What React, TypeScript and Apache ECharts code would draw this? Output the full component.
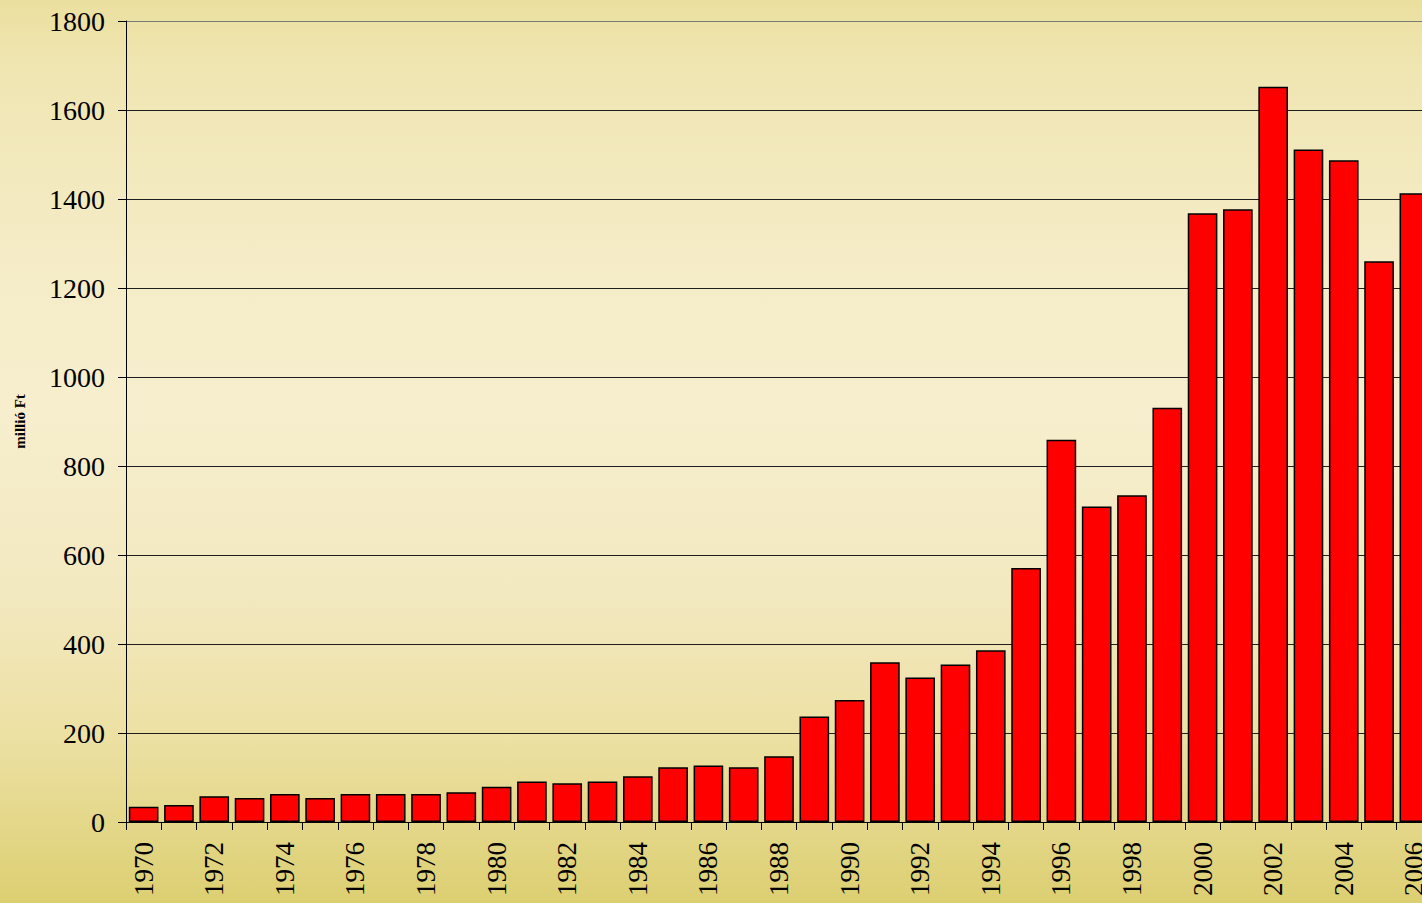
import React, { useEffect, useRef } from "react";
import * as echarts from "echarts";

const years: string[] = [
  "1970","1971","1972","1973","1974","1975","1976","1977","1978","1979",
  "1980","1981","1982","1983","1984","1985","1986","1987","1988","1989",
  "1990","1991","1992","1993","1994","1995","1996","1997","1998","1999",
  "2000","2001","2002","2003","2004","2005","2006",
];
const values: number[] = [
  34, 38, 58, 54, 63, 54, 63, 63, 63, 67,
  79, 91, 87, 91, 103, 123, 127, 123, 148, 237,
  274, 359, 325, 354, 386, 571, 859, 709, 734, 931,
  1368, 1377, 1652, 1511, 1487, 1260, 1413,
];
const yMin = 0;
const yMax = 1800;
const yStep = 200;
const yName = "millió Ft";

export default function App() {
  const ref = useRef<HTMLDivElement>(null);
  useEffect(() => {
    if (!ref.current) return;
    const chart = echarts.init(ref.current, undefined, { renderer: "svg" });
    const lineColors: string[] = [];
    for (let v = yMin; v <= yMax; v += yStep) lineColors.push(v === yMax ? "#7a7a7a" : "#1e1e1e");
    chart.setOption({
      animation: false,
      backgroundColor: "transparent",
      grid: { left: 126, top: 21, bottom: 81, right: 8, containLabel: false },
      xAxis: {
        type: "category",
        data: years,
        axisLine: { lineStyle: { color: "#000", width: 1 } },
        axisTick: { show: true, interval: 0, length: 8, lineStyle: { color: "#000" } },
        axisLabel: {
          interval: 1,
          rotate: 90,
          margin: 20,
          fontFamily: "Liberation Serif",
          fontSize: 27,
          color: "#000",
        },
        splitLine: { show: false },
      },
      yAxis: {
        type: "value",
        min: yMin,
        max: yMax,
        interval: yStep,
        name: yName,
        nameLocation: "middle",
        nameRotate: 90,
        nameGap: 99,
        nameTextStyle: {
          fontFamily: "Liberation Serif",
          fontSize: 15,
          fontWeight: "bold",
          color: "#000",
        },
        axisLine: { show: true, lineStyle: { color: "#000", width: 1 } },
        axisTick: { show: true, length: 8, lineStyle: { color: "#000" } },
        axisLabel: {
          margin: 21,
          fontFamily: "Liberation Serif",
          fontSize: 28,
          color: "#000",
          formatter: (v: number) => String(v),
        },
        splitLine: { show: true, lineStyle: { color: lineColors, width: 1 } },
      },
      series: [
        {
          type: "bar",
          data: values,
          barCategoryGap: "16%",
          itemStyle: {
            color: "#ff0000",
            borderColor: "#000",
            borderWidth: 1.5,
          },
        },
      ],
    });
    return () => chart.dispose();
  }, []);
  return (
    <div
      style={{
        position: "fixed",
        left: 0,
        top: 0,
        width: 1422,
        height: 903,
        overflow: "hidden",
        background:
          "linear-gradient(to bottom, #ebdf9f 0%, #f0e6b3 8%, #f5ecc8 30%, #f6eecd 45%, #f3e9c1 65%, #ece0a2 82%, #dccf72 100%)",
      }}
    >
      <div ref={ref} style={{ width: 1440, height: 903 }} />
    </div>
  );
}
